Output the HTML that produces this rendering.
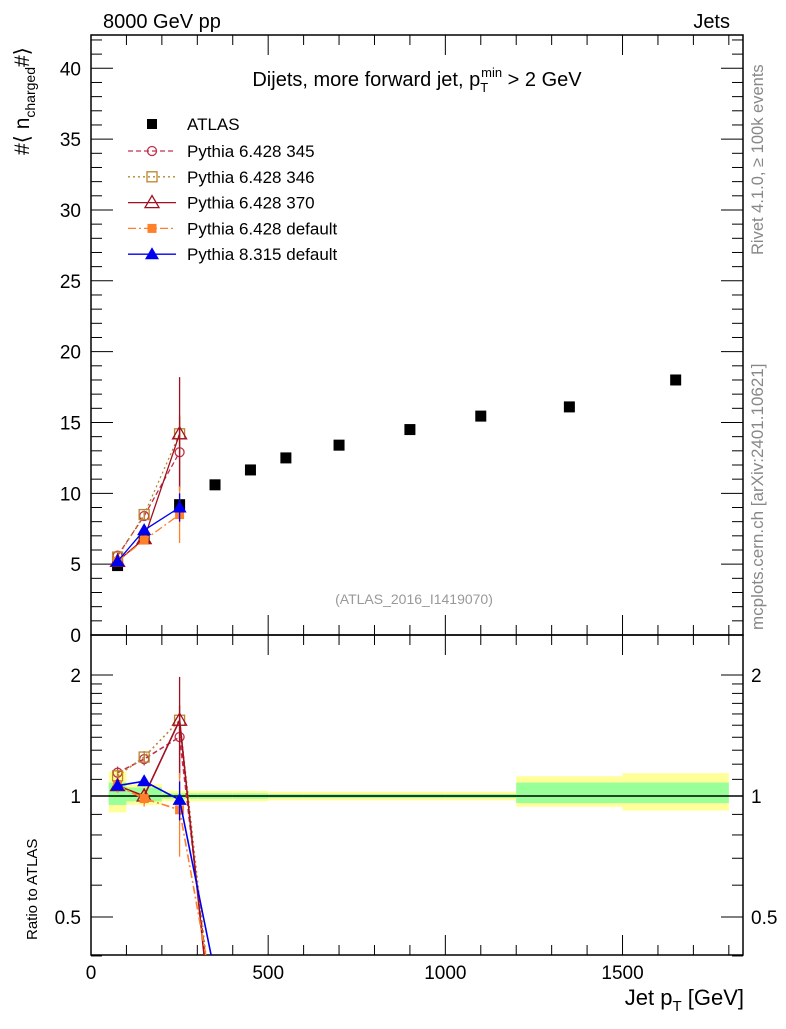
<!DOCTYPE html>
<html><head><meta charset="utf-8"><style>
body{margin:0;background:#fff}
svg{font-family:"Liberation Sans",sans-serif}
</style></head><body>
<svg id="c" width="786" height="1024" viewBox="0 0 786 1024" xmlns="http://www.w3.org/2000/svg">
<defs>
<clipPath id="cm"><rect x="91" y="35" width="652" height="600"/></clipPath>
<clipPath id="cr"><rect x="91" y="635" width="652" height="320"/></clipPath>
</defs>
<g id="root"></g>
</svg>
<script>
const binEdges=[50,100,200,300,400,500,600,800,1000,1200,1500,1800];
const xCenters=[75,150,250,350,450,550,700,900,1100,1350,1650];
const atlas=[4.9,6.8,9.2,10.6,11.65,12.5,13.4,14.5,15.45,16.1,18.0];
const bandTotLo=[0.91,0.95,0.97,0.97,0.97,0.975,0.975,0.975,0.975,0.94,0.92];
const bandTotHi=[1.15,1.07,1.03,1.03,1.03,1.025,1.025,1.025,1.025,1.12,1.14];
const bandStatLo=[0.95,0.97,0.985,0.985,0.985,0.988,0.988,0.988,0.988,0.96,0.96];
const bandStatHi=[1.08,1.05,1.015,1.015,1.015,1.012,1.012,1.012,1.012,1.08,1.08];
const mcX=[75,150,250];
const p345=[5.6,8.4,12.9];const p345Err=[0.2,0.3,2.5];
const p346=[5.5,8.5,14.2];const p346Err=[0.2,0.3,1.3];
const p370=[5.2,6.8,14.2];const p370Err=[0.2,0.3,4.0];
const pdef=[5.2,6.7,8.5];const pdefErr=[0.2,0.3,2.0];
const p8=[5.2,7.4,9.0];const p8Err=[0.15,0.2,1.0];
const dropRatio=[0.25,0.25,0.22,0.3,0.36];
const yTicks=[0,5,10,15,20,25,30,35,40];
const rTicks=[0.5,1,2];
const xTicks=[0,500,1000,1500];

const NS="http://www.w3.org/2000/svg";
const root=document.getElementById('root');
function el(tag,at,parent){const e=document.createElementNS(NS,tag);for(const k in at)e.setAttribute(k,at[k]);(parent||root).appendChild(e);return e;}
const X0=91,X1=743,XMAX=1840;
const sx=v=>X0+v*(X1-X0)/XMAX;
const sy=v=>635-v*(635-35)/42.35;
const sr=v=>796-Math.log2(v)*121;

const gb=el('g',{'clip-path':'url(#cr)'});


for(let i=0;i<xCenters.length;i++){
  const a=sx(binEdges[i]),b=sx(binEdges[i+1]);
  el('rect',{x:a,y:sr(bandTotHi[i]),width:b-a,height:sr(bandTotLo[i])-sr(bandTotHi[i]),fill:'#ffff99'},gb);
  el('rect',{x:a,y:sr(bandStatHi[i]),width:b-a,height:sr(bandStatLo[i])-sr(bandStatHi[i]),fill:'#99ff99'},gb);
}
el('line',{x1:X0,x2:X1,y1:sr(1),y2:sr(1),stroke:'#000','stroke-width':1.5});

let f=el('rect',{x:91,y:35,width:652,height:600,fill:'none',stroke:'#000','stroke-width':1.5});

f=el('rect',{x:91,y:635,width:652,height:320,fill:'none',stroke:'#000','stroke-width':1.5});


const ax=el('g',{stroke:'#000','stroke-width':1});
for(let v=0;v<=1800;v+=100){const x=sx(v),L=v%500==0?20:10;
  el('line',{x1:x,x2:x,y1:955,y2:955-L},ax);el('line',{x1:x,x2:x,y1:635,y2:635-L},ax);
  el('line',{x1:x,x2:x,y1:635,y2:635+L},ax);el('line',{x1:x,x2:x,y1:35,y2:35+L},ax);}
for(let v=0;v<=42;v++){const y=sy(v),L=v%5==0?22:11;
  el('line',{x1:X0,x2:X0+L,y1:y,y2:y},ax);el('line',{x1:X1,x2:X1-L,y1:y,y2:y},ax);}
const rmin=[0.4,0.5,0.6,0.7,0.8,0.9,1,1.1,1.2,1.3,1.4,1.5,1.6,1.7,1.8,1.9,2];
rmin.forEach(v=>{const y=sr(v),L=(v==0.5||v==1||v==2)?22:11;
  el('line',{x1:X0,x2:X0+L,y1:y,y2:y},ax);el('line',{x1:X1,x2:X1-L,y1:y,y2:y},ax);});

function txt(s,at,name){const t=el('text',Object.assign({'font-size':19,fill:'#000'},at));t.textContent=s;
  return t;}
xTicks.forEach(v=>txt(String(v),{x:sx(v),y:979,'text-anchor':'middle'},'x-tick-label'));
yTicks.forEach(v=>txt(String(v),{x:81,y:sy(v)+7,'text-anchor':'end'},'y-tick-label'));
rTicks.forEach(v=>{txt(String(v),{x:81,y:sr(v)+7,'text-anchor':'end'},'ratio-tick-label');
  txt(String(v),{x:751,y:sr(v)+7},'ratio-tick-label-right');});

const ga=el('g',{});

xCenters.forEach((x,i)=>{el('rect',{x:sx(x)-5.5,y:sy(atlas[i])-5.5,width:11,height:11,fill:'#000'},ga);});

function marker(g,type,cx,cy,color){
  if(type=='circle')el('circle',{cx,cy,r:4.5,fill:'none',stroke:color,'stroke-width':1.3},g);
  else if(type=='osq')el('rect',{x:cx-5,y:cy-5,width:10,height:10,fill:'none',stroke:color,'stroke-width':1.3},g);
  else if(type=='otri')el('polygon',{points:`${cx},${cy-7} ${cx-7},${cy+5} ${cx+7},${cy+5}`,fill:'none',stroke:color,'stroke-width':1.3},g);
  else if(type=='fsq')el('rect',{x:cx-4.5,y:cy-4.5,width:9,height:9,fill:color},g);
  else if(type=='ftri')el('polygon',{points:`${cx},${cy-7} ${cx-7},${cy+5} ${cx+7},${cy+5}`,fill:color},g);
}
const series=[
 {name:'pythia-6428-345',vals:p345,err:p345Err,color:'#c0304a',dash:'5,3',m:'circle',lab:'Pythia 6.428 345'},
 {name:'pythia-6428-346',vals:p346,err:p346Err,color:'#b8862e',dash:'2,3',m:'osq',lab:'Pythia 6.428 346'},
 {name:'pythia-6428-370',vals:p370,err:p370Err,color:'#a01020',dash:'',m:'otri',lab:'Pythia 6.428 370'},
 {name:'pythia-6428-default',vals:pdef,err:pdefErr,color:'#ff7f2a',dash:'8,3,2,3',m:'fsq',lab:'Pythia 6.428 default'},
 {name:'pythia-8315-default',vals:p8,err:p8Err,color:'#0000ee',dash:'',m:'ftri',lab:'Pythia 8.315 default'}];
series.forEach((s,si)=>{
  const g=el('g',{'clip-path':'url(#cm)'});
  
  el('polyline',{points:mcX.map((x,i)=>sx(x)+','+sy(s.vals[i])).join(' '),fill:'none',stroke:s.color,'stroke-width':1.3,'stroke-dasharray':s.dash},g);
  mcX.forEach((x,i)=>{el('line',{x1:sx(x),x2:sx(x),y1:sy(s.vals[i]-s.err[i]),y2:sy(s.vals[i]+s.err[i]),stroke:s.color,'stroke-width':1.3},g);
    marker(g,s.m,sx(x),sy(s.vals[i]),s.color);});
  const gr=el('g',{'clip-path':'url(#cr)'});
  
  const rv=mcX.map((x,i)=>s.vals[i]/atlas[i]);
  const pts=mcX.map((x,i)=>sx(x)+','+sr(rv[i]));pts.push(sx(350)+','+sr(dropRatio[si]));
  el('polyline',{points:pts.join(' '),fill:'none',stroke:s.color,'stroke-width':1.6,'stroke-dasharray':s.dash},gr);
  mcX.forEach((x,i)=>{const lo=(s.vals[i]-s.err[i])/atlas[i],hi=(s.vals[i]+s.err[i])/atlas[i];
    el('line',{x1:sx(x),x2:sx(x),y1:sr(lo),y2:sr(hi),stroke:s.color,'stroke-width':1.3},gr);
    marker(gr,s.m,sx(x),sr(rv[i]),s.color);});
  const ly=151+si*25.8;
  const lg=el('g',{});
  
  el('line',{x1:128,x2:176,y1:ly,y2:ly,stroke:s.color,'stroke-width':1.3,'stroke-dasharray':s.dash},lg);
  marker(lg,s.m,152,ly,s.color);
  const t=el('text',{x:187,y:ly+6,'font-size':17},lg);t.textContent=s.lab;
});
const la=el('g',{});
el('rect',{x:147,y:119,width:10,height:10,fill:'#000'},la);
const lt=el('text',{x:187,y:130,'font-size':17},la);lt.textContent='ATLAS';

txt('8000 GeV pp',{x:103,y:28,'font-size':20},'beam-label');
txt('Jets',{x:730,y:28,'font-size':20,'text-anchor':'end'},'process-label');
let t=el('text',{x:417,y:86,'font-size':20,'text-anchor':'middle'});
t.innerHTML='Dijets, more forward jet, p<tspan font-size="13" dy="6">T</tspan><tspan font-size="13" dy="-15" dx="-7">min</tspan><tspan dy="9"> &gt; 2 GeV</tspan>';

txt('(ATLAS_2016_I1419070)',{x:414,y:604,'font-size':14,fill:'#999','text-anchor':'middle'},'analysis-id');
t=el('text',{x:744,y:1005,'font-size':22,'text-anchor':'end'});
t.innerHTML='Jet p<tspan font-size="15" dy="6">T</tspan><tspan dy="-6"> [GeV]</tspan>';

t=el('text',{transform:'translate(29,155) rotate(-90)','font-size':21,'text-anchor':'start'});
t.innerHTML='#⟨ n<tspan font-size="14" dy="6">charged</tspan><tspan dy="-6">#⟩</tspan>';

txt('Ratio to ATLAS',{transform:'translate(37,940) rotate(-90)','font-size':15},'ratio-axis-title');
txt('Rivet 4.1.0, ≥ 100k events',{transform:'translate(763,255) rotate(-90)','font-size':16.5,fill:'#888'},'rivet-label');
txt('mcplots.cern.ch [arXiv:2401.10621]',{transform:'translate(763,630) rotate(-90)','font-size':17,fill:'#888'},'mcplots-label');
</script>
</body></html>
